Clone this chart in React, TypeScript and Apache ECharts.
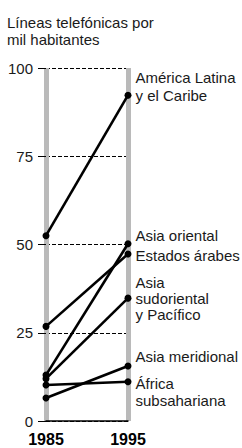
import React, { useEffect, useRef } from "react";
import * as echarts from "echarts";

const years = ["1985", "1995"];
const yTicks = [0, 25, 50, 75, 100];
const regions = [
  "América Latina\ny el Caribe",
  "Asia oriental",
  "Estados árabes",
  "Asia\nsudoriental\ny Pacífico",
  "Asia meridional",
  "África\nsubsahariana",
];
const v1985 = [52.5, 13, 26.8, 12, 6.5, 10.2];
const v1995 = [92.3, 50.2, 47.3, 34.8, 15.6, 11.1];
const title = "Líneas telefónicas por\nmil habitantes";

const labelOffsets = [
  [0, -9],
  [0, -8],
  [0, 1],
  [0, 0],
  [0, -9],
  [0, 10],
];
const labelLineHeights = [18, 18, 18, 16, 18, 17];

const FONT = "'Liberation Sans', Arial, sans-serif";

export default function App() {
  const ref = useRef<HTMLDivElement>(null);
  useEffect(() => {
    if (!ref.current) return;
    const chart = echarts.init(ref.current, null, { renderer: "svg" });
    const series = regions.map((name, i) => ({
      type: "line",
      name,
      data: [
        v1985[i],
        {
          value: v1995[i],
          label: {
            show: true,
            position: "right",
            distance: 4,
            offset: labelOffsets[i],
            formatter: name,
            fontFamily: FONT,
            fontSize: 15,
            color: "#1a1a1a",
            lineHeight: labelLineHeights[i],
            align: "left",
          },
        },
      ],
      symbol: "circle",
      symbolSize: 7,
      lineStyle: { color: "#000", width: 2.6 },
      itemStyle: { color: "#000" },
      z: 5,
    }));
    chart.setOption({
      animation: false,
      title: {
        text: title,
        left: 2,
        top: 9,
        textStyle: {
          fontFamily: FONT,
          fontSize: 15,
          fontWeight: "normal",
          color: "#1a1a1a",
          lineHeight: 17,
        },
      },
      grid: { left: 46, right: 114, top: 68, bottom: 27, containLabel: false },
      xAxis: {
        type: "category",
        data: years,
        boundaryGap: false,
        axisLine: { show: true, lineStyle: { color: "#000", width: 1.5 } },
        axisTick: { show: false },
        axisLabel: {
          fontFamily: FONT,
          fontSize: 16,
          fontWeight: "bold",
          color: "#000",
          margin: 10,
        },
        splitLine: {
          show: true,
          interval: 0,
          lineStyle: { color: "#bababa", width: 5 },
        },
      },
      yAxis: {
        type: "value",
        min: yTicks[0],
        max: yTicks[yTicks.length - 1],
        interval: 25,
        axisLine: { show: false },
        axisTick: { show: true, length: 8, lineStyle: { color: "#000", width: 1 } },
        axisLabel: {
          fontFamily: FONT,
          fontSize: 15,
          color: "#1a1a1a",
          margin: 13,
        },
        splitLine: {
          show: true,
          lineStyle: { color: "#000", width: 1, type: [4, 2] },
        },
      },
      series,
    });
    return () => chart.dispose();
  }, []);
  return <div ref={ref} style={{ width: 242, height: 448, position: "absolute", left: 0, top: 0 }} />;
}
